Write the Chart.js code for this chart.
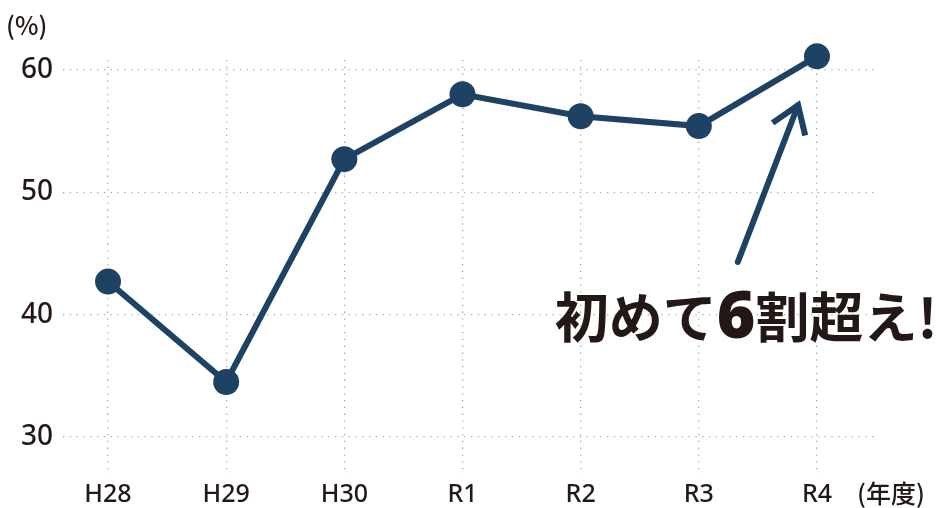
<!DOCTYPE html>
<html>
<head>
<meta charset="utf-8">
<script src="https://cdn.jsdelivr.net/npm/chart.js@4"></script>
<style>
  body { margin: 0; background: #fff; }
</style>
</head>
<body>
<canvas id="myChart" width="939" height="508"></canvas>
<script>
const ctx = document.getElementById("myChart");

const labels = ["H28", "H29", "H30", "R1", "R2", "R3", "R4"];
const rates = [42.7, 34.5, 52.7, 58.0, 56.2, 55.4, 61.1];
const yTicks = [30, 40, 50, 60];

const LINE = "#1e4263";
const INK = "#231815";
const GRID = "#a8a8a8";

// callout: arrow tail/tip and text anchor, in data units
const arrowFrom = { x: 5.33, y: 44.3 };
const arrowTo = { x: 5.84, y: 57.1 };
const noteAt = { x: 5.4, y: 39.9 };

const points = rates.map((v, i) => ({ x: i, y: v }));

const extras = {
  id: "extras",
  afterDatasetsDraw(chart) {
    const c = chart.ctx;
    const xs = chart.scales.x;
    const ys = chart.scales.y;
    c.save();

    // axis units
    c.fillStyle = INK;
    c.textBaseline = "middle";
    c.textAlign = "left";
    c.font = "500 25px 'Noto Sans CJK JP'";
    c.fillText("(%)", 6, 25);
    c.fillText("(年度)", 857, 493);

    // arrow
    const x1 = xs.getPixelForValue(arrowFrom.x);
    const y1 = ys.getPixelForValue(arrowFrom.y);
    const x2 = xs.getPixelForValue(arrowTo.x);
    const y2 = ys.getPixelForValue(arrowTo.y);
    c.strokeStyle = LINE;
    c.lineWidth = 6;
    c.lineCap = "round";
    c.beginPath();
    c.moveTo(x1, y1);
    c.lineTo(x2, y2);
    c.stroke();
    const ang = Math.atan2(y2 - y1, x2 - x1);
    const len = 31;
    c.lineCap = "butt";
    c.beginPath();
    c.moveTo(x2 + len * Math.cos(ang + Math.PI - 0.6), y2 + len * Math.sin(ang + Math.PI - 0.6));
    c.lineTo(x2, y2);
    c.lineTo(x2 + len * Math.cos(ang + Math.PI + 0.6), y2 + len * Math.sin(ang + Math.PI + 0.6));
    c.stroke();

    // note text
    const parts = [
      { t: "初めて", f: "700 54px 'Noto Sans CJK JP'" },
      { t: "6", f: "900 66px 'Noto Sans'" },
      { t: "割超え!", f: "700 54px 'Noto Sans CJK JP'" },
    ];
    let total = 0;
    parts.forEach((p) => {
      c.font = p.f;
      p.w = c.measureText(p.t).width;
      total += p.w;
    });
    let tx = xs.getPixelForValue(noteAt.x) - total / 2;
    const ty = ys.getPixelForValue(noteAt.y);
    c.fillStyle = INK;
    c.textAlign = "left";
    c.textBaseline = "alphabetic";
    parts.forEach((p) => {
      c.font = p.f;
      c.fillText(p.t, tx, ty + 22);
      tx += p.w;
    });
    c.restore();
  },
};

const myChart = new Chart(ctx, {
  type: "line",
  data: {
    datasets: [
      {
        data: points,
        borderColor: LINE,
        backgroundColor: LINE,
        borderWidth: 6,
        pointRadius: 13,
        pointHoverRadius: 13,
        pointBorderWidth: 0,
        tension: 0,
        clip: false,
      },
    ],
  },
  options: {
    responsive: false,
    animation: false,
    layout: { padding: { top: 60, right: 62, bottom: 0, left: 0 } },
    plugins: {
      legend: { display: false },
      tooltip: { enabled: false },
    },
    scales: {
      x: {
        type: "linear",
        min: -0.381,
        max: 6.508,
        afterBuildTicks: (s) => {
          s.ticks = labels.map((l, i) => ({ value: i }));
        },
        afterFit: (s) => {
          s.height = 33;
        },
        border: { display: false, dash: [1.3, 5.5] },
        grid: { color: GRID, lineWidth: 1.3, drawTicks: false },
        ticks: {
          padding: 5,
          color: INK,
          font: { family: "'Noto Sans'", size: 25, weight: 500 },
          callback: (v) => labels[v],
        },
      },
      y: {
        min: 26.9,
        max: 60.8,
        afterBuildTicks: (s) => {
          s.ticks = yTicks.map((v) => ({ value: v }));
        },
        afterFit: (s) => {
          s.width = 63;
        },
        border: { display: false, dash: [1.3, 5.5] },
        grid: { color: GRID, lineWidth: 1.3, drawTicks: false },
        ticks: {
          padding: 10,
          color: INK,
          font: { family: "'Noto Sans'", size: 28, weight: 500 },
        },
      },
    },
  },
  plugins: [extras],
});
</script>
</body>
</html>
